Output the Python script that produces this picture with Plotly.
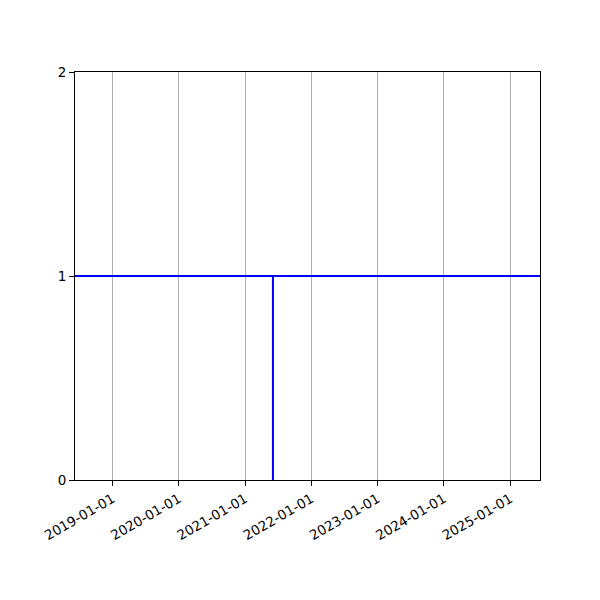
import plotly.graph_objects as go

# data
span_dates = ['2018-06-08', '2025-06-14']   # full x extent of the axes
level = [1, 1]                              # horizontal level across the span
event_dates = ['2021-06-03', '2021-06-03']  # vertical marker date
event_vals = [0, 1]
tick_dates = ['2019-01-01', '2020-01-01', '2021-01-01', '2022-01-01',
              '2023-01-01', '2024-01-01', '2025-01-01']
y_ticks = [0, 1, 2]

fig = go.Figure()
fig.add_trace(go.Scatter(x=span_dates, y=level, mode='lines',
                         line=dict(color='#0000ff', width=2)))
fig.add_trace(go.Scatter(x=event_dates, y=event_vals, mode='lines',
                         line=dict(color='#0000ff', width=2)))

# page body adds 8px, so margins are shifted to land the axes where the reference has them
fig.update_layout(
    width=600, height=600,
    margin=dict(l=67, r=68, t=64, b=128),
    plot_bgcolor='white', paper_bgcolor='white',
    showlegend=False,
    font=dict(family='DejaVu Sans', size=13.5, color='black'),
)
fig.update_xaxes(
    type='date', range=span_dates,
    tickvals=tick_dates, ticktext=tick_dates, tickangle=-30,
    showgrid=True, gridcolor='#b0b0b0', gridwidth=1,
    showline=True, linecolor='black', linewidth=1, mirror=True,
    ticks='outside', ticklen=5, tickcolor='black', zeroline=False,
)
fig.update_yaxes(
    range=[0, 2], tickvals=y_ticks,
    showgrid=False,
    showline=True, linecolor='black', linewidth=1, mirror=True,
    ticks='outside', ticklen=5, tickcolor='black', zeroline=False,
)

fig.write_html("out.html")
